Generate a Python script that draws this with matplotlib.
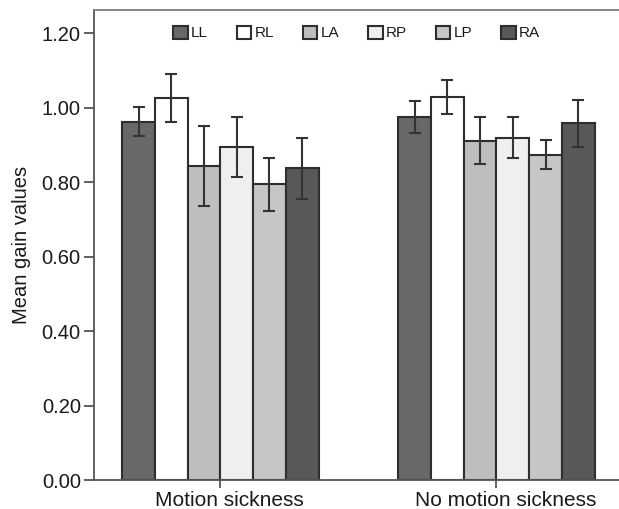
import matplotlib.pyplot as plt
import matplotlib.transforms as mtransforms
import numpy as np

# Data
GROUPS = ["Motion sickness", "No motion sickness"]
CANALS = ["LL", "RL", "LA", "RP", "LP", "RA"]
MEANS_MS = [0.963, 1.026, 0.844, 0.894, 0.794, 0.837]
ERRS_MS = [0.040, 0.064, 0.107, 0.081, 0.071, 0.083]
MEANS_NMS = [0.976, 1.028, 0.912, 0.920, 0.874, 0.958]
ERRS_NMS = [0.043, 0.046, 0.064, 0.055, 0.039, 0.064]
Y_TICKS = [0.0, 0.2, 0.4, 0.6, 0.8, 1.0, 1.2]

# Settings
FILLS = ["#686868", "#ffffff", "#bebebe", "#efefef", "#c6c6c6", "#585858"]
EDGE = "#2e2e2e"
AXIS_COLOR = "#555555"
BAR_W = 0.1185
plt.rcParams['font.family'] = ['Liberation Sans', 'DejaVu Sans']


def Main():
    fig = plt.figure(figsize=(6.19, 5.09), dpi=100)
    ax = fig.add_axes([94/619, 1 - 480/509, 1 - 94/619, (480 - 9.5)/509])

    x = np.arange(len(GROUPS))
    means = np.array([MEANS_MS, MEANS_NMS])
    errs = np.array([ERRS_MS, ERRS_NMS])

    # One bar per canal in each group
    for i, canal in enumerate(CANALS):
        pos = x + (i - 2.5)*BAR_W
        ax.bar(pos, means[:, i], width=BAR_W, color=FILLS[i],
               edgecolor=EDGE, linewidth=1.5, label=canal, zorder=2)
        ax.errorbar(pos, means[:, i], yerr=errs[:, i], fmt="none",
                    ecolor="#333333", elinewidth=1.5, capsize=4,
                    capthick=1.5, zorder=3)

    # Axes limits and ticks
    ax.set_xlim(-0.458, 1.444)
    ax.set_ylim(0, 1.264)
    ax.set_yticks(Y_TICKS)
    ax.set_yticklabels([f"{v:.2f}" for v in Y_TICKS], fontsize=14.5)
    ax.set_xticks(x)
    ax.set_xticklabels(GROUPS, fontsize=15)
    ax.tick_params(axis="y", direction="out", length=7.5, width=1.3,
                   color=AXIS_COLOR, pad=2, labelcolor="#1a1a1a")
    ax.tick_params(axis="x", direction="out", length=6, width=1.3,
                   color=AXIS_COLOR, pad=2, labelcolor="#1a1a1a")

    # Nudge the category labels a little to the right
    shift = mtransforms.ScaledTranslation(9/100, 0, fig.dpi_scale_trans)
    for lab in ax.get_xticklabels():
        lab.set_transform(lab.get_transform() + shift)

    ax.set_ylabel("Mean gain values", fontsize=14.5, labelpad=8,
                  color="#1a1a1a")

    # Frame: left, bottom and top lines only
    for side in ["left", "bottom", "top"]:
        ax.spines[side].set_color(AXIS_COLOR)
        ax.spines[side].set_linewidth(1.3)
    ax.spines["top"].set_color("#7a7a7a")
    ax.spines["right"].set_visible(False)

    # Legend across the top
    leg = ax.legend(loc="center", bbox_to_anchor=(0.5, 1 - (33 - 9.5)/470.5),
                    ncol=6, frameon=False, fontsize=11, handlelength=0.95,
                    handleheight=0.95, handletextpad=0.2, columnspacing=1.9,
                    borderaxespad=0)
    for t in leg.get_texts():
        t.set_color("#1a1a1a")

    fig.savefig("out.png", dpi=100)
    plt.close("all")


if __name__ == "__main__":
    Main()
